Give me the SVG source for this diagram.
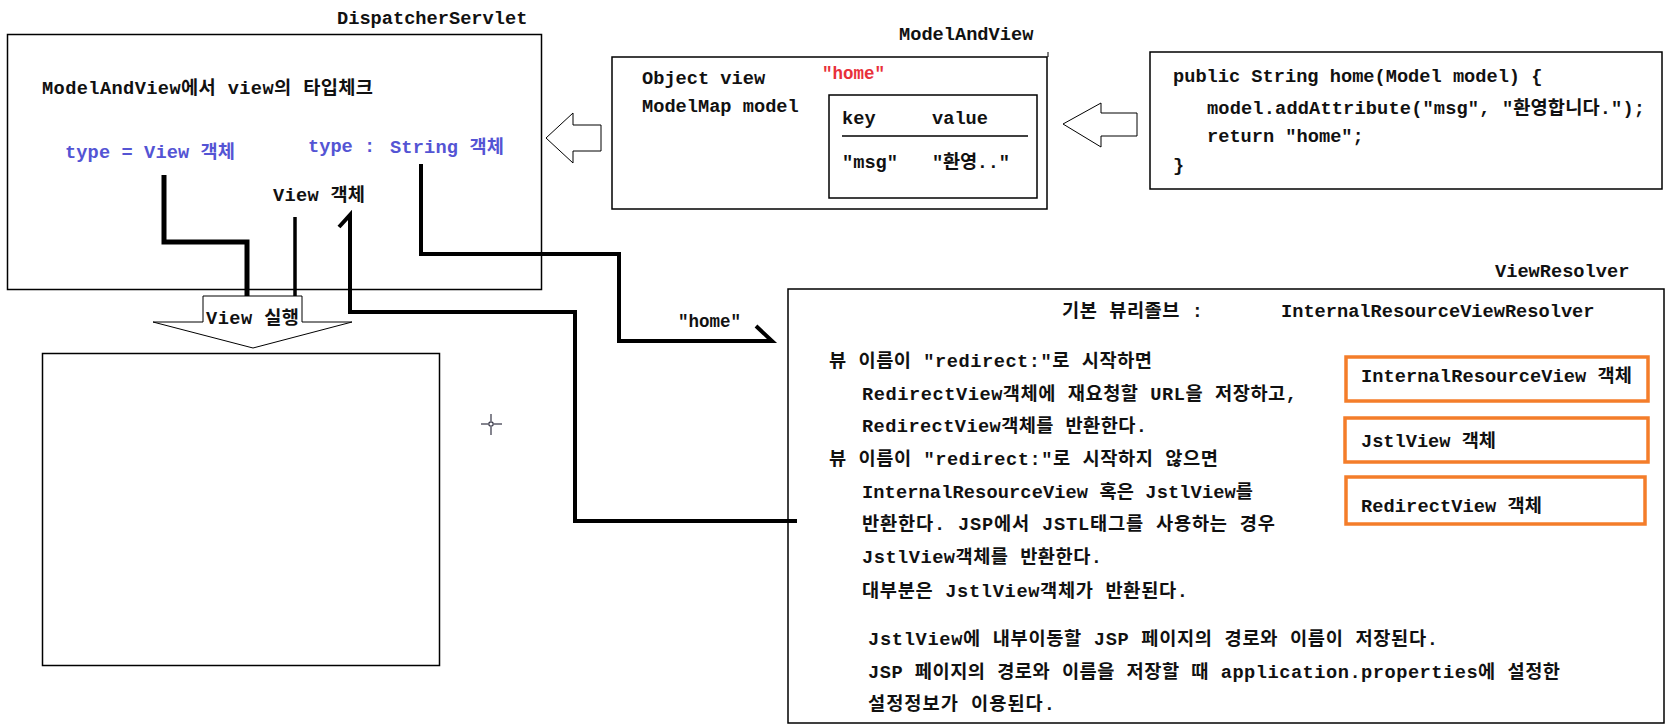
<svg xmlns="http://www.w3.org/2000/svg" width="1670" height="727" viewBox="0 0 1670 727">
<style>
  text { font-family: 'Liberation Mono', 'Noto Sans CJK KR', monospace; font-weight: bold; font-size: 18.67px; fill: #111; }
  .blue { fill: #5454d4; }
  .red { fill: #e8303a; font-size: 17.5px; }
  .small { font-size: 17.5px; }
  .box { fill: #fff; stroke: #000; stroke-width: 1.5; }
  .obox { fill: #fff; stroke: #f47d2a; stroke-width: 3.5; }
  .arrow { fill: #fff; stroke: #000; stroke-width: 1; }
  .wire { fill: none; stroke: #000; stroke-linejoin: miter; }
</style>
<rect width="1670" height="727" fill="#fff"/>

<g id="dispatcher">
  <text x="337" y="24">DispatcherServlet</text>
  <rect class="box" x="7.5" y="34.5" width="534" height="255"/>
  <text x="42" y="94" textLength="331">ModelAndView에서 view의 타입체크</text>
  <text class="blue" x="65" y="158" textLength="170">type = View 객체</text>
  <text class="blue" x="308" y="152">type :</text>
  <text class="blue" x="390" y="153" textLength="114">String 객체</text>
  <text x="273" y="201" textLength="92">View 객체</text>
</g>

<g id="modelandview">
  <text x="899" y="40">ModelAndView</text>
  <rect class="box" x="612" y="57" width="435" height="152"/>
  <line x1="1048" y1="52" x2="1048" y2="57" stroke="#000" stroke-width="1"/>
  <text x="642" y="84">Object view</text>
  <text class="red" x="822" y="79">"home"</text>
  <text x="642" y="112">ModelMap model</text>
  <g id="modelmap">
    <rect class="box" x="829" y="95" width="208" height="103"/>
    <text x="842" y="124">key</text>
    <text x="932" y="124">value</text>
    <line x1="842" y1="136" x2="1028" y2="136" stroke="#000" stroke-width="1.5"/>
    <text x="842" y="168">"msg"</text>
    <text x="932" y="168" textLength="78">"환영.."</text>
  </g>
</g>

<g id="controller">
  <rect class="box" x="1150" y="52" width="512" height="137"/>
  <text x="1173" y="82">public String home(Model model) {</text>
  <text x="1207" y="114" textLength="438">model.addAttribute("msg", "환영합니다.");</text>
  <text x="1207" y="142">return "home";</text>
  <text x="1173" y="171">}</text>
</g>

<g id="viewresolver">
  <text x="1495" y="277">ViewResolver</text>
  <rect class="box" x="788" y="289" width="876" height="434"/>
  <text x="1062" y="317" textLength="141">기본 뷰리졸브 :</text>
  <text x="1281" y="317">InternalResourceViewResolver</text>
  <text x="829" y="367" textLength="323">뷰 이름이 "redirect:"로 시작하면</text>
  <text x="862" y="400" textLength="435">RedirectView객체에 재요청할 URL을 저장하고,</text>
  <text x="862" y="432" textLength="285">RedirectView객체를 반환한다.</text>
  <text x="829" y="465" textLength="389">뷰 이름이 "redirect:"로 시작하지 않으면</text>
  <text x="862" y="498" textLength="391">InternalResourceView 혹은 JstlView를</text>
  <text x="862" y="530" textLength="413">반환한다. JSP에서 JSTL태그를 사용하는 경우</text>
  <text x="862" y="563" textLength="240">JstlView객체를 반환한다.</text>
  <text x="862" y="597" textLength="326">대부분은 JstlView객체가 반환된다.</text>
  <text x="868" y="645" textLength="570">JstlView에 내부이동할 JSP 페이지의 경로와 이름이 저장된다.</text>
  <text x="868" y="678" textLength="692">JSP 페이지의 경로와 이름을 저장할 때 application.properties에 설정한</text>
  <text x="868" y="710" textLength="187">설정정보가 이용된다.</text>
</g>

<g id="view-internal">
  <rect class="obox" x="1346" y="357" width="302" height="44"/>
  <text x="1361" y="382" textLength="271">InternalResourceView 객체</text>
</g>
<g id="view-jstl">
  <rect class="obox" x="1345" y="418" width="303" height="44"/>
  <text x="1361" y="447" textLength="135">JstlView 객체</text>
</g>
<g id="view-redirect">
  <rect class="obox" x="1346" y="477" width="299" height="47"/>
  <text x="1361" y="512" textLength="181">RedirectView 객체</text>
</g>

<g id="view-box">
  <rect class="box" x="42.5" y="353.5" width="397" height="312"/>
</g>

<g id="view-exec">
  <polygon class="arrow" points="203,296 302,296 302,322 352,322 253,348 153,322 203,322"/>
  <text x="206" y="324" textLength="93">View 실행</text>
</g>

<g id="cursor" stroke="#334" stroke-width="1.2" fill="none">
  <circle cx="491" cy="424" r="2.2"/>
  <line x1="481" y1="424" x2="488" y2="424"/>
  <line x1="494" y1="424" x2="502" y2="424"/>
  <line x1="491" y1="414" x2="491" y2="421"/>
  <line x1="491" y1="427" x2="491" y2="435"/>
</g>

<g id="connectors">
  <polygon class="arrow" points="546,138 573,113 573,125 601,125 601,151 573,151 573,163"/>
  <polygon class="arrow" points="1063,124 1101,103 1101,113 1137,113 1137,136 1101,136 1101,147"/>
  <path class="wire" stroke-width="5" d="M164,175 V242 H247 V296"/>
  <path class="wire" stroke-width="3.5" d="M295,217 V296"/>
  <path class="wire" stroke-width="4" d="M339,227 L350,215 V312 H575 V521 H797"/>
  <path class="wire" stroke-width="4" d="M421,164 V254 H619 V341 H772 L756,326"/>
  <text class="small" x="678" y="327">"home"</text>
</g>
</svg>
